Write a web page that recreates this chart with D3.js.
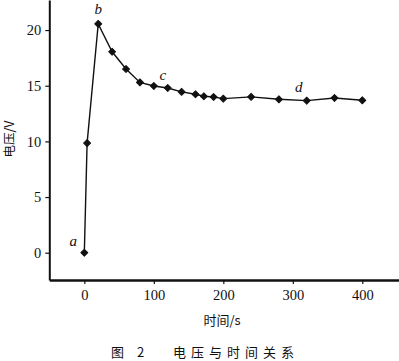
<!DOCTYPE html>
<html><head><meta charset="utf-8">
<script src="https://cdn.jsdelivr.net/npm/d3@7"></script>
<style>
body{margin:0;background:#fff;}
svg{display:block;}
text{fill:#111;}
</style></head>
<body><svg id="c" width="399" height="361"></svg>
<script>
const times = [0, 4, 20, 40, 60, 80, 100, 120, 140, 160, 172, 186, 200, 240, 280, 320, 360, 400];
const voltages = [0, 9.85, 20.55, 18.05, 16.5, 15.3, 14.98, 14.8, 14.45, 14.23, 14.05, 13.99, 13.84, 14.0, 13.78, 13.66, 13.9, 13.69];
const xTicks = [0, 100, 200, 300, 400];
const yTicks = [0, 5, 10, 15, 20];
const pointLabels = [
  {t: "a", x: 0, y: 0, dx: -11, dy: -7},
  {t: "b", x: 20, y: 20.55, dx: 0, dy: -10},
  {t: "c", x: 100, y: 14.98, dx: 9, dy: -6},
  {t: "d", x: 320, y: 13.66, dx: -8, dy: -9}
];
const xTitle = "时间/s";
const yTitle = "电压/V";
const caption = "图 2\u00a0\u00a0\u00a0电压与时间关系";

const svg = d3.select("#c");
const x = d3.scaleLinear().domain([-50.4, 452.8]).range([49.3, 399]);
const y = d3.scaleLinear().domain([-2.45, 22.7]).range([280, 0]);
const numFont = "'Liberation Serif','DejaVu Serif',serif";
const cjkFont = "'Noto Sans CJK SC','Noto Sans CJK JP',sans-serif";

// axes
const xAxis = svg.append("g").attr("transform", `translate(0,${y.range()[0]})`)
  .call(d3.axisBottom(x).tickValues(xTicks).tickSize(4).tickSizeOuter(0).tickPadding(4));
const yAxis = svg.append("g").attr("transform", `translate(${x.range()[0]},0)`)
  .call(d3.axisLeft(y).tickValues(yTicks).tickSize(4).tickSizeOuter(0).tickPadding(4));
[xAxis, yAxis].forEach(a => {
  a.selectAll("text").attr("font-family", numFont).attr("font-size", 14.5).attr("fill", "#111");
  a.selectAll("line").attr("stroke", "#111").attr("stroke-width", 1.2);
});
xAxis.select(".domain").attr("stroke", "#111").attr("stroke-width", 2.6);
yAxis.select(".domain").attr("stroke", "#111").attr("stroke-width", 2);
xAxis.selectAll("text").attr("dy", "0.85em");
yAxis.selectAll("text").attr("dy", "0.34em");

// line
const data = times.map((t, i) => ({t, v: voltages[i]}));
svg.append("path").datum(data)
  .attr("fill", "none").attr("stroke", "#111").attr("stroke-width", 1.4)
  .attr("d", d3.line().x(d => x(d.t)).y(d => y(d.v)));
svg.append("g").selectAll("path").data(data).join("path")
  .attr("transform", d => `translate(${x(d.t)},${y(d.v)}) rotate(45)`)
  .attr("d", d3.symbol().type(d3.symbolSquare).size(24))
  .attr("fill", "#111").attr("stroke", "#111").attr("stroke-width", 1).attr("stroke-linejoin", "round");

// point labels
svg.append("g").selectAll("text").data(pointLabels).join("text")
  .attr("x", d => x(d.x) + d.dx).attr("y", d => y(d.y) + d.dy)
  .attr("text-anchor", "middle")
  .attr("font-family", numFont).attr("font-style", "italic").attr("font-size", 15)
  .text(d => d.t);

// titles
svg.append("text").attr("x", 222).attr("y", 325).attr("text-anchor", "middle")
  .attr("font-family", cjkFont).attr("font-size", 13).text(xTitle);
svg.append("text").attr("transform", "translate(14,139) rotate(-90)").attr("text-anchor", "middle")
  .attr("font-family", cjkFont).attr("font-size", 12.5).text(yTitle);
svg.append("text").attr("x", 205).attr("y", 357).attr("text-anchor", "middle")
  .attr("font-family", cjkFont).attr("font-size", 13).attr("letter-spacing", 5).text(caption);
</script></body></html>
